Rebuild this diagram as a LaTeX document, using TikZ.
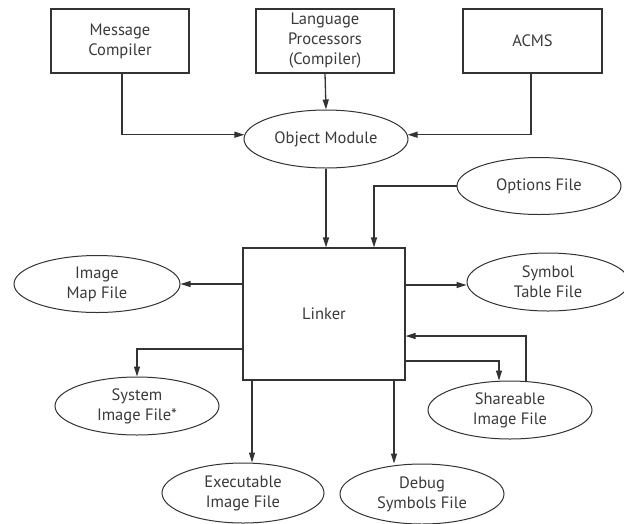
\documentclass[tikz,border=0pt]{standalone}
\usepackage{fontspec}
\setmainfont{PT Sans}
\usetikzlibrary{arrows.meta,shapes.geometric,calc}
\definecolor{ln}{HTML}{333333}
\definecolor{tx}{HTML}{3A3A3A}
\begin{document}
\begin{tikzpicture}[x=1pt,y=-1pt,
  every node/.style={text=tx,font=\fontsize{16.5}{20}\selectfont,align=center,inner sep=0pt},
  boxnode/.style={draw=ln,line width=1.1pt,rectangle},
  ovalnode/.style={draw=ln,line width=1pt,ellipse},
  arr/.style={draw=ln,line width=1.3pt,-{Triangle[length=10pt,width=6pt]}}]
\useasboundingbox (0,0) rectangle (624,523);
% top boxes
\node[boxnode,minimum width=138pt,minimum height=64pt] (msg) at (120,41) {Message\\Compiler};
\node[boxnode,minimum width=138pt,minimum height=64pt] (lang) at (325,41) {Language\\Processors\\(Compiler)};
\node[boxnode,minimum width=139pt,minimum height=64pt] (acms) at (532.5,41) {ACMS};
% ellipses
\node[ovalnode,minimum width=164pt,minimum height=58pt] (obj) at (326,139) {Object Module};
\node[ovalnode,minimum width=164pt,minimum height=57pt] (opt) at (539,186) {Options File};
\node[boxnode,minimum width=162pt,minimum height=132pt] (linker) at (324,314) {Linker};
\node[ovalnode,minimum width=166pt,minimum height=57pt] (imap) at (97,284) {Image\\Map File};
\node[ovalnode,minimum width=162pt,minimum height=58pt] (symt) at (548,282) {Symbol\\Table File};
\node[ovalnode,minimum width=164pt,minimum height=58pt] (sysim) at (137,406) {System\\Image File*};
\node[ovalnode,minimum width=164pt,minimum height=58pt] (share) at (510,410) {Shareable\\Image File};
\node[ovalnode,minimum width=162pt,minimum height=60pt] (exec) at (243,493) {Executable\\Image File};
\node[ovalnode,minimum width=164pt,minimum height=60pt] (debug) at (422,494) {Debug\\Symbols File};
% connectors
\draw[arr] ([xshift=2pt]msg.south) |- (obj.177);
\draw[arr] (lang.south) -- (obj.north);
\draw[arr] ([xshift=-1.5pt]acms.south) |- (obj.3);
\draw[arr] (obj.south) -- (linker.north -| obj.south);
\draw[arr] (opt.west) -| ([xshift=50pt]linker.north);
\draw[arr] (linker.west |- imap.east) -- (imap.east);
\draw[arr] (linker.east |- 0,285) -- (symt.west |- 0,285);
\draw[arr] (linker.west |- 0,349) -| (sysim.north);
\draw[arr] (linker.east |- 0,361) -| ([xshift=-11pt]share.north);
\draw[arr] ([xshift=16pt]share.north) |- (linker.east |- 0,336);
\draw[arr] (linker.south -| 252,0) -- (exec.north -| 252,0);
\draw[arr] (linker.south -| 394,0) -- (debug.north -| 394,0);
\end{tikzpicture}
\end{document}
